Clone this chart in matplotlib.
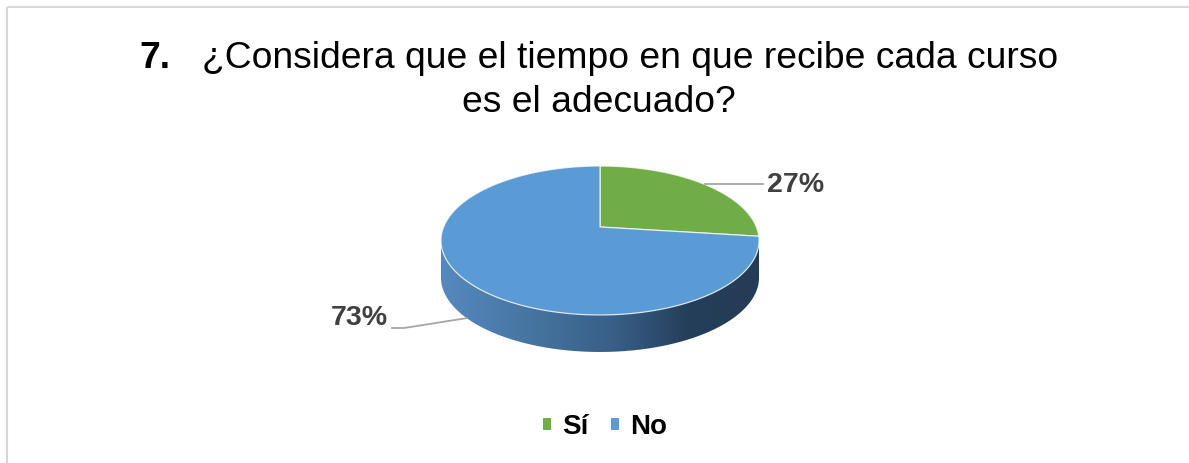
import numpy as np
import matplotlib
matplotlib.use("Agg")
import matplotlib.pyplot as plt
from matplotlib.patches import Polygon, Rectangle, Patch
from matplotlib.colors import LinearSegmentedColormap

# ---- data ----
categories = ["Sí", "No"]
values = [27, 73]
colors = ["#70ad47", "#5b9bd5"]
pct_labels = ["27%", "73%"]
title_num = "7."
title_line1 = "¿Considera que el tiempo en que recibe cada curso"
title_line2 = "es el adecuado?"

plt.rcParams['font.family'] = ['Liberation Sans', 'DejaVu Sans']

W, H = 1189, 463
fig = plt.figure(figsize=(W / 100, H / 100), dpi=100)
ax = fig.add_axes([0, 0, 1, 1])
ax.set_xlim(0, W)
ax.set_ylim(H, 0)
ax.axis('off')

# border
ax.add_patch(Rectangle((7, 7), W + 20, H + 20, fill=False, ec="#d9d9d9", lw=1.5))

# ---- 3D pie geometry (perspective projection of a disk) ----
cx, cy = 600.0, 227.0
A = 72.05      # vertical radius factor
B = 156.4      # horizontal radius factor
d = 0.181      # perspective factor
h = 37.0       # thickness


def rim(phi, dy=0.0):
    s = np.sin(phi)
    den = 1 + d * s
    return np.column_stack([cx + B * np.cos(phi) / den, cy - A * s / den + dy])


# side wall with gradient
pa = np.pi + np.arcsin(d)
pb = 2 * np.pi - np.arcsin(d)
ph = np.linspace(pa, pb, 300)
side_pts = np.vstack([rim(ph), rim(ph[::-1], h)])
side_poly = Polygon(side_pts, closed=True, fc='none', ec='none')
ax.add_patch(side_poly)
cmap = LinearSegmentedColormap.from_list(
    "side", [(0.0, "#5689bf"), (0.3, "#45739f"), (0.55, "#375e86"),
             (0.78, "#253e59"), (1.0, "#243c56")])
grad = np.linspace(0, 1, 256).reshape(1, -1)
xmin, xmax = side_pts[:, 0].min(), side_pts[:, 0].max()
ymin, ymax = side_pts[:, 1].min(), side_pts[:, 1].max()
im = ax.imshow(grad, cmap=cmap, extent=[xmin, xmax, ymax, ymin],
               aspect='auto', interpolation='bilinear', zorder=1)
im.set_clip_path(side_poly)
ax.set_xlim(0, W)
ax.set_ylim(H, 0)

# top face wedges
total = float(sum(values))
start = np.pi / 2
anchors = []
for v, c in zip(values, colors):
    sweep = 2 * np.pi * v / total
    end = start - sweep
    angs = np.linspace(start, end, 400)
    pts = np.vstack([[cx, cy], rim(angs)])
    ax.add_patch(Polygon(pts, closed=True, fc=c, ec=(1, 1, 1, 0.75), lw=0.9, zorder=2,
                         joinstyle='round'))
    mid = (start + end) / 2
    p = rim(np.array([mid]))[0]
    if np.sin(mid) < 0:
        p = p + np.array([0, h])
    anchors.append(p)
    start = end

# data labels with leader lines
lab_col = "#404040"
lead_col = "#a6a6a6"
# 27%
a = anchors[0]
ax.plot([a[0], 763], [a[1], a[1]], color=lead_col, lw=1.3, zorder=3)
ax.text(767, a[1] + 1, pct_labels[0], fontsize=20.5, fontweight='bold', color=lab_col,
        ha='left', va='center', zorder=4)
# 73%
a = anchors[1]
ax.plot([392, 404, a[0]], [328, 328, a[1]], color=lead_col, lw=1.3, zorder=3)
ax.text(388, 318, pct_labels[1], fontsize=20.5, fontweight='bold', color=lab_col,
        ha='right', va='center', zorder=4)

# title
ax.text(139, 68, title_num, fontsize=26.8, fontweight='bold', color='black',
        ha='left', va='baseline')
ax.text(202, 68, title_line1, fontsize=26.8, color='black', ha='left', va='baseline')
ax.text(599, 112, title_line2, fontsize=26.8, color='black', ha='center', va='baseline')

# legend
handles = [Patch(facecolor=c, edgecolor='none') for c in colors]
leg = ax.legend(handles, categories, loc='center', bbox_to_anchor=(605 / W, 1 - 427 / H),
                ncol=2, frameon=False, handlelength=0.3, handleheight=0.3,
                handletextpad=0.4, columnspacing=0.8,
                prop={'family': 'Liberation Sans', 'weight': 'bold', 'size': 20})

fig.savefig("out.png", dpi=100)
